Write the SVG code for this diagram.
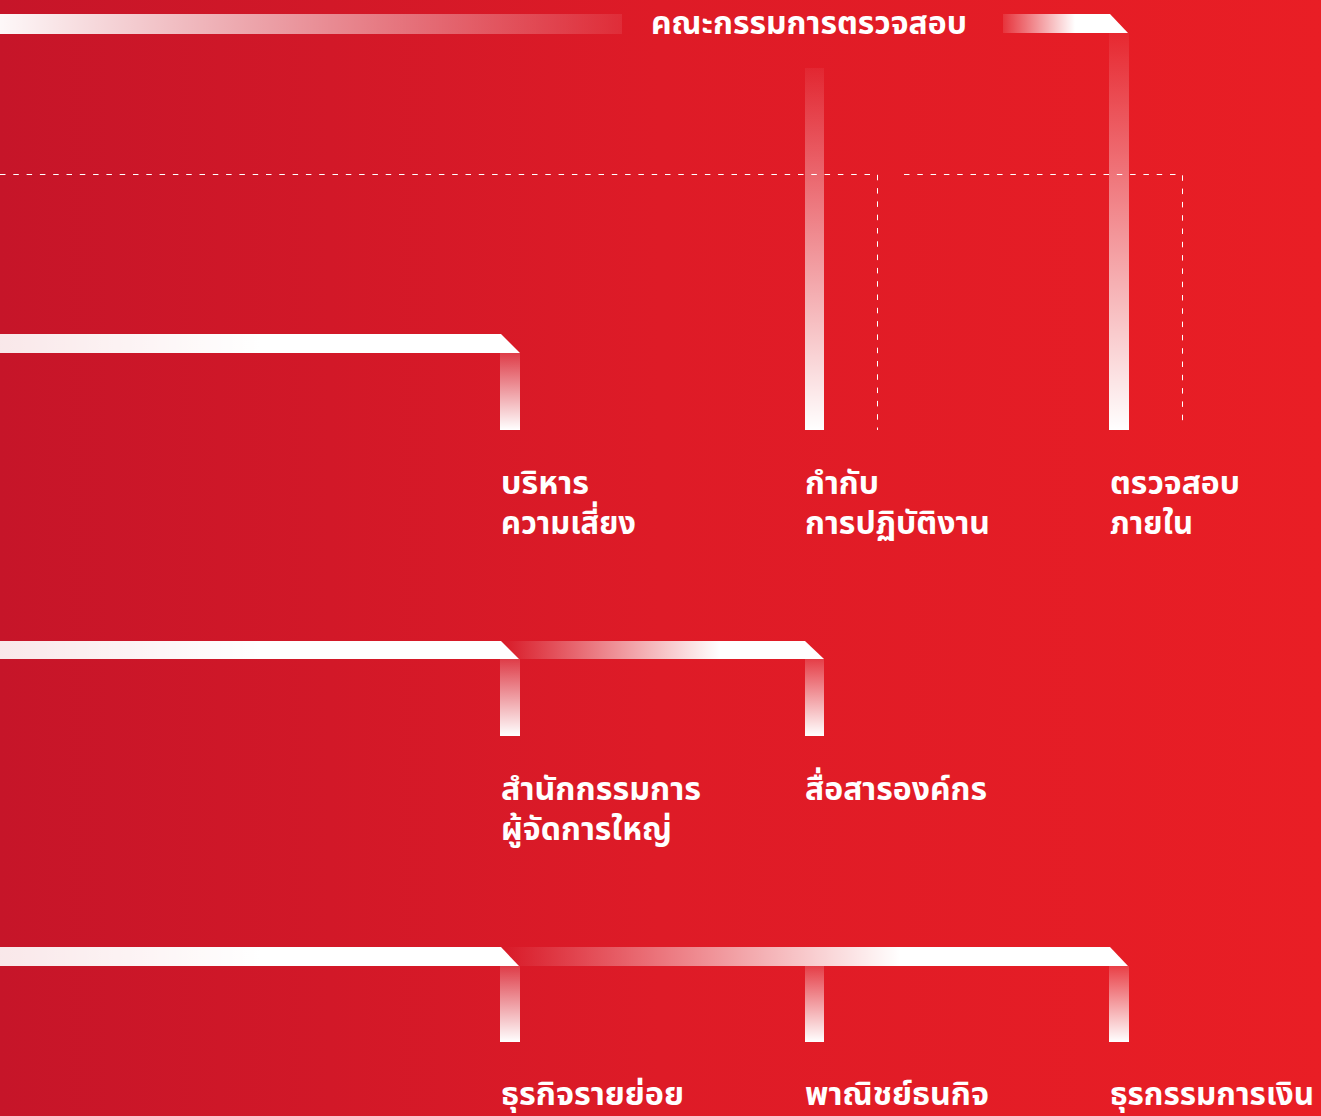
<svg xmlns="http://www.w3.org/2000/svg" width="1321" height="1116" viewBox="0 0 1321 1116">
<defs>
<linearGradient id="bg" x1="0" y1="0" x2="1321" y2="0" gradientUnits="userSpaceOnUse">
<stop offset="0" stop-color="#c61529"/>
<stop offset="0.5" stop-color="#de1b27"/>
<stop offset="1" stop-color="#e91e25"/>
</linearGradient>
<linearGradient id="topLeft" x1="0" y1="0" x2="622" y2="0" gradientUnits="userSpaceOnUse">
<stop offset="0" stop-color="#fff" stop-opacity="0.97"/>
<stop offset="1" stop-color="#fff" stop-opacity="0.08"/>
</linearGradient>
<linearGradient id="topRight" x1="1003" y1="0" x2="1075" y2="0" gradientUnits="userSpaceOnUse">
<stop offset="0" stop-color="#fff" stop-opacity="0.1"/>
<stop offset="1" stop-color="#fff" stop-opacity="1"/>
</linearGradient>
<linearGradient id="rowLeft" x1="0" y1="0" x2="260" y2="0" gradientUnits="userSpaceOnUse">
<stop offset="0" stop-color="#fff" stop-opacity="0.9"/>
<stop offset="1" stop-color="#fff" stop-opacity="1"/>
</linearGradient>
<linearGradient id="row2Right" x1="503" y1="0" x2="720" y2="0" gradientUnits="userSpaceOnUse">
<stop offset="0" stop-color="#fff" stop-opacity="0"/>
<stop offset="1" stop-color="#fff" stop-opacity="1"/>
</linearGradient>
<linearGradient id="row3Right" x1="503" y1="0" x2="900" y2="0" gradientUnits="userSpaceOnUse">
<stop offset="0" stop-color="#fff" stop-opacity="0"/>
<stop offset="1" stop-color="#fff" stop-opacity="1"/>
</linearGradient>
<linearGradient id="vLong" x1="0" y1="0" x2="0" y2="1">
<stop offset="0" stop-color="#fff" stop-opacity="0.05"/>
<stop offset="1" stop-color="#fff" stop-opacity="1"/>
</linearGradient>
<linearGradient id="vShort" x1="0" y1="0" x2="0" y2="1">
<stop offset="0" stop-color="#fff" stop-opacity="0.15"/>
<stop offset="1" stop-color="#fff" stop-opacity="1"/>
</linearGradient>
</defs>
<style>
.lbl{font-family:"Noto Sans Thai","Noto Sans","DejaVu Sans",sans-serif;font-weight:700;font-size:31.5px;fill:#fff}
.dash{fill:none;stroke:#fff;stroke-width:1;stroke-dasharray:5.5 7.8}
</style>
<rect width="1321" height="1116" fill="url(#bg)"/>
<g id="connectors">
<rect x="0" y="14" width="622" height="20" fill="url(#topLeft)"/>
<polygon points="1003,14 1110,14 1128,33 1003,33" fill="url(#topRight)"/>
<rect x="1109" y="33" width="20" height="397" fill="url(#vLong)"/>
<rect x="805" y="68" width="19" height="362" fill="url(#vLong)"/>
<path class="dash" d="M0,174.5 H877.5 V430"/>
<path class="dash" d="M904,174.5 H1182.5 V422"/>
<polygon points="0,334 501,334 520,353 0,353" fill="url(#rowLeft)"/>
<rect x="500" y="353" width="20" height="77" fill="url(#vShort)"/>
<polygon points="0,641 501,641 519,659 0,659" fill="url(#rowLeft)"/>
<polygon points="501,641 805,641 824,659 519,659" fill="url(#row2Right)"/>
<rect x="500" y="659" width="20" height="77" fill="url(#vShort)"/>
<rect x="805" y="659" width="19" height="77" fill="url(#vShort)"/>
<polygon points="0,947 501,947 519,966 0,966" fill="url(#rowLeft)"/>
<polygon points="501,947 1110,947 1128,966 519,966" fill="url(#row3Right)"/>
<rect x="500" y="966" width="20" height="76" fill="url(#vShort)"/>
<rect x="805" y="966" width="19" height="76" fill="url(#vShort)"/>
<rect x="1109" y="966" width="20" height="76" fill="url(#vShort)"/>
</g>
<g id="audit-committee"><text class="lbl" x="651" y="34" textLength="316" lengthAdjust="spacingAndGlyphs">คณะกรรมการตรวจสอบ</text></g>
<g id="risk-management"><text class="lbl" x="501" y="494" textLength="88" lengthAdjust="spacingAndGlyphs">บริหาร</text><text class="lbl" x="501" y="534" textLength="135" lengthAdjust="spacingAndGlyphs">ความเสี่ยง</text></g>
<g id="compliance"><text class="lbl" x="805" y="494" textLength="74" lengthAdjust="spacingAndGlyphs">กำกับ</text><text class="lbl" x="805" y="534" textLength="185" lengthAdjust="spacingAndGlyphs">การปฏิบัติงาน</text></g>
<g id="internal-audit"><text class="lbl" x="1110" y="494" textLength="130" lengthAdjust="spacingAndGlyphs">ตรวจสอบ</text><text class="lbl" x="1110" y="534" textLength="83" lengthAdjust="spacingAndGlyphs">ภายใน</text></g>
<g id="office-president"><text class="lbl" x="501" y="800" textLength="200" lengthAdjust="spacingAndGlyphs">สำนักกรรมการ</text><text class="lbl" x="501" y="840" textLength="171" lengthAdjust="spacingAndGlyphs">ผู้จัดการใหญ่</text></g>
<g id="corporate-comm"><text class="lbl" x="805" y="800" textLength="182" lengthAdjust="spacingAndGlyphs">สื่อสารองค์กร</text></g>
<g id="retail"><text class="lbl" x="501" y="1105" textLength="183" lengthAdjust="spacingAndGlyphs">ธุรกิจรายย่อย</text></g>
<g id="commercial"><text class="lbl" x="805" y="1105" textLength="184" lengthAdjust="spacingAndGlyphs">พาณิชย์ธนกิจ</text></g>
<g id="transaction"><text class="lbl" x="1110" y="1105" textLength="204" lengthAdjust="spacingAndGlyphs">ธุรกรรมการเงิน</text></g>
</svg>
